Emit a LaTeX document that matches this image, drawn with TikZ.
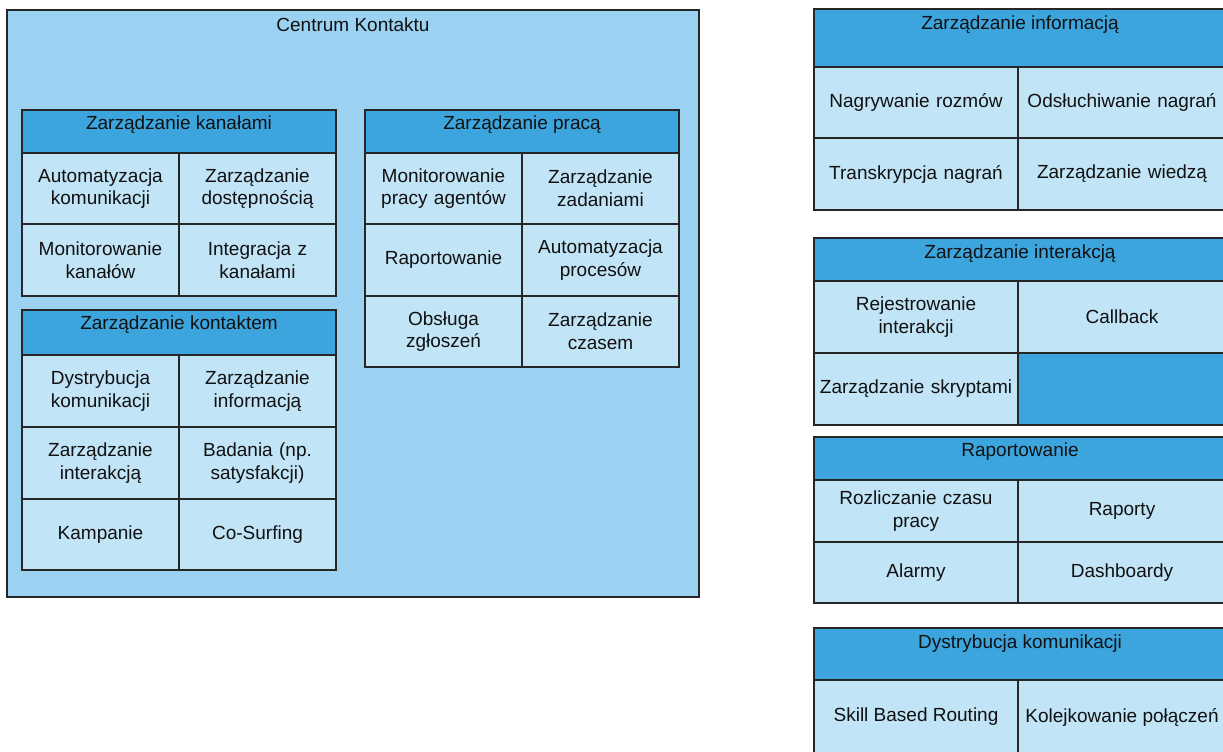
\documentclass[tikz,border=0pt]{standalone}
\usepackage{fontspec}
\setmainfont{Liberation Sans}
\definecolor{outerfill}{HTML}{9BD2F2}
\definecolor{headfill}{HTML}{3CA5DE}
\definecolor{cellfill}{HTML}{C2E4F7}
\definecolor{edge}{HTML}{262626}
\definecolor{ink}{HTML}{111111}
\tikzset{
  outerbox/.style={draw=edge, fill=outerfill, line width=0.9pt, inner sep=0pt},
  headbox/.style={draw=edge, fill=headfill, line width=0.9pt, inner sep=0pt},
  cellbox/.style={draw=edge, fill=cellfill, line width=0.9pt, inner sep=2pt, align=center, text=ink},
  darkcell/.style={draw=edge, fill=headfill, line width=0.9pt, inner sep=0pt},
  titletext/.style={text=ink, inner sep=0pt, anchor=center},
}
% \blk{name}{x1}{y1}{x2}{y2}{style}{text}: box given by two corners in pixels
\newcommand\blk[7]{%
  \node[#6, minimum width={(#4-#2)*0.75pt}, minimum height={(#5-#3)*0.75pt},
        text width={(#4-#2-8)*0.75pt}]
    (#1) at ({(#2+#4)/2},{(#3+#5)/2}) {#7};}
% \ttl{name}{x1}{x2}{y}{text}: centred caption of a group
\newcommand\ttl[5]{\node[titletext] (#1) at ({(#2+#3)/2},{#4+3}) {#5};}
\begin{document}
\begin{tikzpicture}[x=0.75pt, y=-0.75pt,
  every node/.append style={font=\fontsize{14.25}{17.1}\selectfont}]
\useasboundingbox (0,0) rectangle (1223,751);
\begin{scope}
\clip (0,0) rectangle (1223,751);

% ---------- Centrum Kontaktu ----------
\blk{centrum}{7}{10}{699}{597}{outerbox}{}
\ttl{centrumT}{7}{699}{22}{Centrum Kontaktu}

% Zarzadzanie kanalami
\blk{kanH}{22}{110}{336}{153}{headbox}{}
\ttl{kanT}{22}{336}{122}{Zarządzanie kanałami}
\blk{kan11}{22}{153}{179}{224}{cellbox}{Automatyzacja\\komunikacji}
\blk{kan12}{179}{153}{336}{224}{cellbox}{Zarządzanie\\dostępnością}
\blk{kan21}{22}{224}{179}{296}{cellbox}{Monitorowanie\\kanałów}
\blk{kan22}{179}{224}{336}{296}{cellbox}{Integracja z\\kanałami}

% Zarzadzanie kontaktem
\blk{konH}{22}{310}{336}{355}{headbox}{}
\ttl{konT}{22}{336}{322}{Zarządzanie kontaktem}
\blk{kon11}{22}{355}{179}{427}{cellbox}{Dystrybucja\\komunikacji}
\blk{kon12}{179}{355}{336}{427}{cellbox}{Zarządzanie\\informacją}
\blk{kon21}{22}{427}{179}{499}{cellbox}{Zarządzanie\\interakcją}
\blk{kon22}{179}{427}{336}{499}{cellbox}{Badania (np.\\satysfakcji)}
\blk{kon31}{22}{499}{179}{570}{cellbox}{Kampanie}
\blk{kon32}{179}{499}{336}{570}{cellbox}{Co-Surfing}

% Zarzadzanie praca
\blk{prH}{365}{110}{679}{153}{headbox}{}
\ttl{prT}{365}{679}{122}{Zarządzanie pracą}
\blk{pr11}{365}{153}{522}{224}{cellbox}{Monitorowanie\\pracy agentów}
\blk{pr12}{522}{153}{679}{224}{cellbox}{Zarządzanie\\zadaniami}
\blk{pr21}{365}{224}{522}{296}{cellbox}{Raportowanie}
\blk{pr22}{522}{224}{679}{296}{cellbox}{Automatyzacja\\procesów}
\blk{pr31}{365}{296}{522}{367}{cellbox}{Obsługa\\zgłoszeń}
\blk{pr32}{522}{296}{679}{367}{cellbox}{Zarządzanie\\czasem}

% ---------- right column ----------
% Zarzadzanie informacja
\blk{infH}{814}{9}{1226}{67}{headbox}{}
\ttl{infT}{814}{1226}{22}{Zarządzanie informacją}
\blk{inf11}{814}{67}{1018}{138}{cellbox}{Nagrywanie rozmów}
\blk{inf12}{1018}{67}{1226}{138}{cellbox}{Odsłuchiwanie nagrań}
\blk{inf21}{814}{138}{1018}{210}{cellbox}{Transkrypcja nagrań}
\blk{inf22}{1018}{138}{1226}{210}{cellbox}{Zarządzanie wiedzą}

% Zarzadzanie interakcja
\blk{intH}{814}{238}{1226}{281}{headbox}{}
\ttl{intT}{814}{1226}{251}{Zarządzanie interakcją}
\blk{int11}{814}{281}{1018}{353}{cellbox}{Rejestrowanie\\interakcji}
\blk{int12}{1018}{281}{1226}{353}{cellbox}{Callback}
\blk{int21}{814}{353}{1018}{425}{cellbox}{Zarządzanie skryptami}
\blk{int22}{1018}{353}{1226}{425}{darkcell}{}

% Raportowanie
\blk{rapH}{814}{437}{1226}{480}{headbox}{}
\ttl{rapT}{814}{1226}{449}{Raportowanie}
\blk{rap11}{814}{480}{1018}{542}{cellbox}{Rozliczanie czasu\\pracy}
\blk{rap12}{1018}{480}{1226}{542}{cellbox}{Raporty}
\blk{rap21}{814}{542}{1018}{603}{cellbox}{Alarmy}
\blk{rap22}{1018}{542}{1226}{603}{cellbox}{Dashboardy}

% Dystrybucja komunikacji
\blk{dysH}{814}{628}{1226}{680}{headbox}{}
\ttl{dysT}{814}{1226}{641}{Dystrybucja komunikacji}
\blk{dys11}{814}{680}{1018}{756}{cellbox}{}
\ttl{dys11T}{814}{1018}{714}{Skill Based Routing}
\blk{dys12}{1018}{680}{1226}{756}{cellbox}{}
\ttl{dys12T}{1018}{1226}{714}{Kolejkowanie połączeń}
\end{scope}
\end{tikzpicture}
\end{document}
